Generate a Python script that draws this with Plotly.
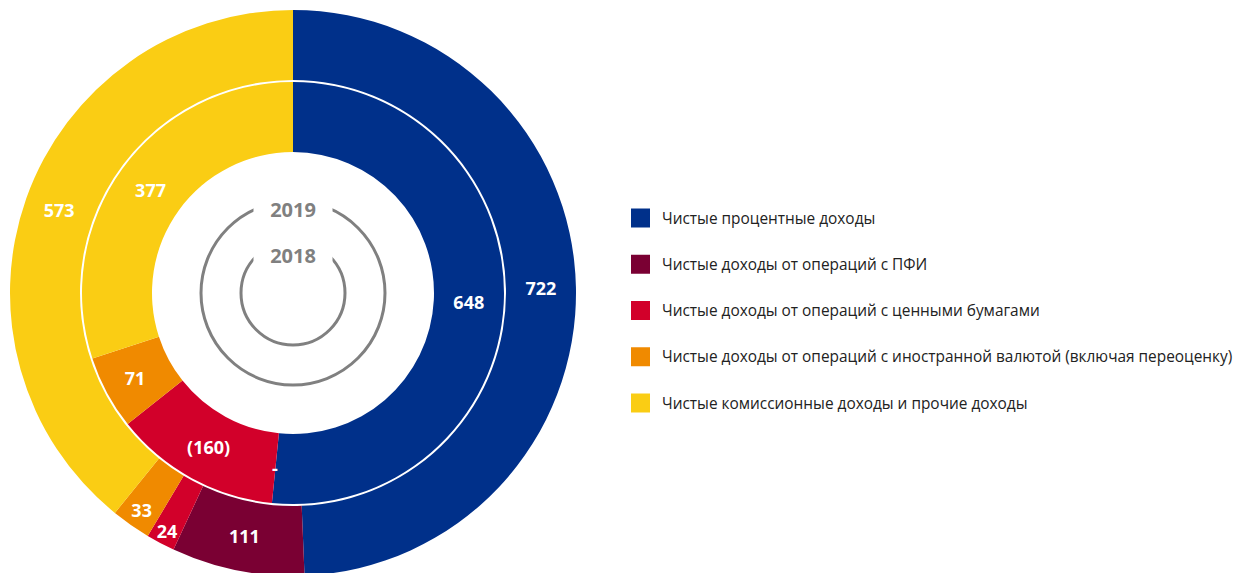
import math
import plotly.graph_objects as go

# Income structure, bn RUB: outer ring 2019, inner ring 2018
categories = [
    "Чистые процентные доходы",
    "Чистые доходы от операций с ПФИ",
    "Чистые доходы от операций с ценными бумагами",
    "Чистые доходы от операций с иностранной валютой (включая переоценку)",
    "Чистые комиссионные доходы и прочие доходы",
]
values_2019 = [722, 111, 24, 33, 573]
values_2018 = [648, 0, -160, 71, 377]
year_labels = ["2019", "2018"]

colors = ["#00308A", "#7A0033", "#D2002A", "#F08A00", "#FACD14"]

W, H = 1240, 576
CX, CY = 293, 293          # ring centre, px from top-left
R_OUT, R_SEP, R_MID, R_HOLE = 283, 213, 211, 141
FONT = "Open Sans"
LABEL_FONT = dict(family=FONT, size=18, color="white", weight="bold")


def fmt(v):
    if v == 0:
        return "-"
    if v < 0:
        return f"({abs(v)})"
    return f"{v}"


def px_x(x):
    return x / W


def px_y(y):
    return 1 - y / H


def domain(r):
    return dict(
        x=[(CX - r) / W, (CX + r) / W],
        y=[max(0.0, 1 - (CY + r) / H), min(1.0, 1 - (CY - r) / H)],
    )


def ring(vals, r, hole, name):
    return go.Pie(
        labels=categories,
        values=[abs(v) for v in vals],
        # zero slices get their dash from an annotation below
        text=[fmt(v) if v != 0 else "" for v in vals],
        textinfo="text",
        textposition="inside",
        insidetextorientation="horizontal",
        textfont=LABEL_FONT,
        marker=dict(colors=colors, line=dict(width=0)),
        sort=False,
        direction="clockwise",
        rotation=0,
        hole=hole,
        domain=domain(r),
        showlegend=False,
        hoverinfo="label+text",
        name=name,
    )


fig = go.Figure()
fig.add_trace(ring(values_2019, R_OUT, R_SEP / R_OUT, year_labels[0]))
fig.add_trace(ring(values_2018, R_MID, R_HOLE / R_MID, year_labels[1]))

shapes, annotations = [], []

# Dash for zero-valued slices, placed at the slice's angle, mid-ring
for vals, r_in, r_out in [(values_2019, R_SEP, R_OUT), (values_2018, R_HOLE, R_MID)]:
    total = sum(abs(v) for v in vals)
    cum = 0
    for v in vals:
        if v == 0:
            ang = math.radians(cum / total * 360)
            rm = (r_in + r_out) / 2
            annotations.append(dict(
                text=fmt(v), xref="paper", yref="paper",
                x=px_x(CX + rm * math.sin(ang)), y=px_y(CY - rm * math.cos(ang)),
                xanchor="center", yanchor="middle", showarrow=False,
                font=LABEL_FONT,
            ))
        cum += abs(v)

# Year rings in the centre, each broken at the top by its year label
for year, r, ty in zip(year_labels, [92, 52], [209, 255]):
    shapes.append(dict(
        type="circle", xref="paper", yref="paper",
        x0=px_x(CX - r), x1=px_x(CX + r), y0=px_y(CY + r), y1=px_y(CY - r),
        line=dict(color="#808080", width=3), fillcolor="rgba(0,0,0,0)",
    ))
    annotations.append(dict(
        text=f"<b>{year}</b>", xref="paper", yref="paper",
        x=px_x(CX), y=px_y(ty), xanchor="center", yanchor="middle",
        showarrow=False, width=76, height=30, bgcolor="white",
        font=dict(family=FONT, size=20, color="#808080"),
    ))

# Legend
LEG_X, LEG_Y0, LEG_DY, SW = 631, 218, 46.25, 19
for i, (cat, col) in enumerate(zip(categories, colors)):
    yc = LEG_Y0 + i * LEG_DY
    shapes.append(dict(
        type="rect", xref="paper", yref="paper",
        x0=px_x(LEG_X), x1=px_x(LEG_X + SW),
        y0=px_y(yc + SW / 2), y1=px_y(yc - SW / 2),
        fillcolor=col, line=dict(width=0),
    ))
    annotations.append(dict(
        text=cat, xref="paper", yref="paper",
        x=px_x(660), y=px_y(yc), xanchor="left", yanchor="middle",
        showarrow=False, font=dict(family=FONT, size=15.4, color="#222222"),
    ))

fig.update_layout(
    width=W, height=H,
    margin=dict(l=0, r=0, t=0, b=0),
    paper_bgcolor="white", plot_bgcolor="white",
    uniformtext=dict(minsize=18, mode="show"),
    shapes=shapes, annotations=annotations,
)

fig.write_html("out.html")
